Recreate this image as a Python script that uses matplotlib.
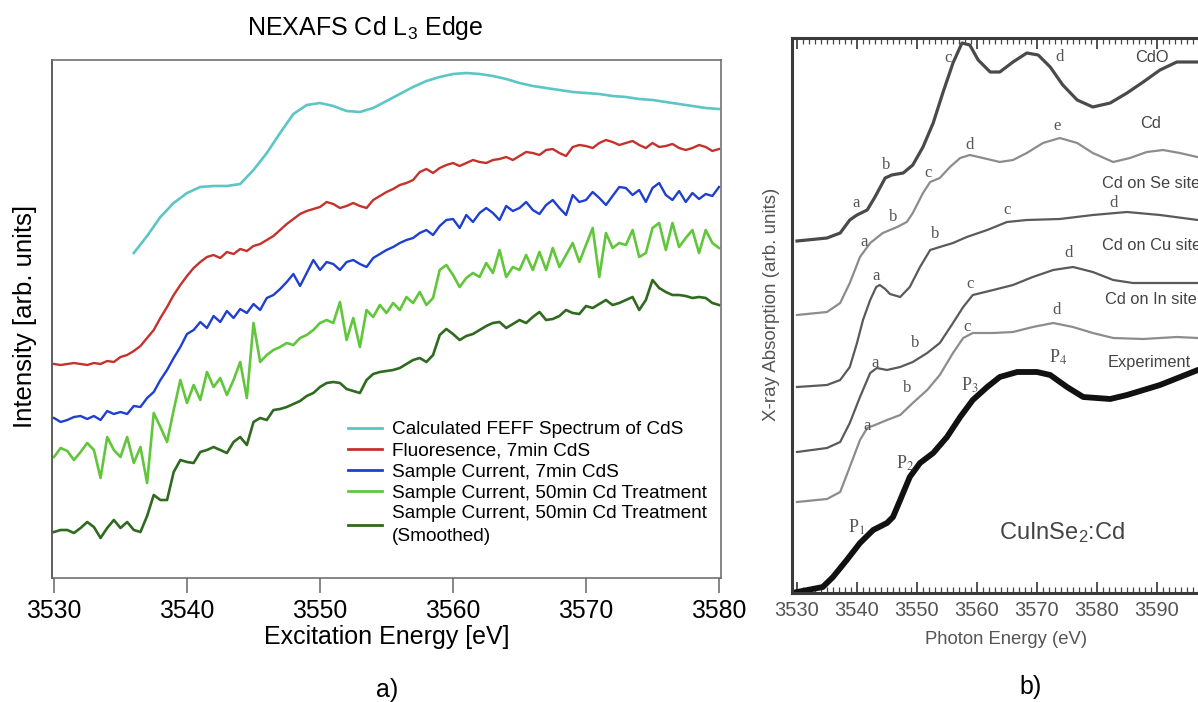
import numpy as np
import matplotlib
matplotlib.use("Agg")
import matplotlib.pyplot as plt
from matplotlib.lines import Line2D
from matplotlib.ticker import MultipleLocator

plt.rcParams['font.family'] = ['Liberation Sans', 'DejaVu Sans']
plt.rcParams['mathtext.fontset'] = 'custom'
plt.rcParams['mathtext.rm'] = 'Liberation Sans'
plt.rcParams['mathtext.it'] = 'Liberation Sans:italic'
plt.rcParams['mathtext.bf'] = 'Liberation Sans:bold'

# ---------------- panel a: NEXAFS Cd L3 edge ----------------
energy = np.arange(3530, 3580.01, 0.5)

feff_energy = np.arange(3536, 3580.01, 1.0)
feff_cds = [347, 364, 383, 397, 407, 413, 414, 414, 416, 430,
            447, 467, 486, 495, 497, 494, 489, 488, 492, 499,
            506, 513, 519, 523, 526, 527, 526, 524, 521, 517,
            514, 512, 510, 508, 507, 506, 504, 503, 501, 500,
            498, 496, 494, 492, 491]

fluor_7min = [236, 235, 236, 237, 236, 235, 237, 236, 239, 238,
              243, 245, 249, 254, 262, 270, 282, 293, 305, 315,
              324, 332, 338, 343, 345, 342, 348, 346, 351, 349,
              354, 356, 360, 364, 370, 376, 381, 386, 389, 391,
              393, 398, 396, 392, 394, 397, 394, 392, 400, 404,
              408, 411, 415, 417, 420, 428, 431, 427, 432, 435,
              437, 434, 437, 440, 438, 437, 440, 441, 443, 440,
              444, 448, 447, 445, 450, 451, 447, 444, 453, 455,
              454, 452, 457, 460, 458, 455, 457, 459, 455, 452,
              457, 453, 454, 456, 452, 450, 452, 455, 453, 449,
              451]

current_7min = [182, 178, 180, 183, 184, 181, 184, 180, 189, 186,
                188, 186, 194, 193, 202, 208, 220, 230, 242, 253,
                266, 270, 278, 272, 284, 278, 289, 282, 291, 287,
                296, 290, 302, 305, 311, 318, 326, 314, 327, 340,
                330, 338, 336, 330, 338, 340, 336, 333, 342, 346,
                350, 353, 357, 360, 362, 367, 370, 365, 374, 380,
                381, 372, 385, 378, 387, 392, 387, 380, 394, 389,
                392, 398, 390, 386, 395, 400, 392, 385, 405, 398,
                400, 408, 402, 395, 404, 413, 412, 405, 410, 398,
                412, 417, 405, 400, 409, 398, 407, 401, 406, 404,
                413]

current_50min = [143, 152, 149, 140, 148, 157, 150, 122, 163, 150,
                 143, 163, 137, 153, 117, 187, 173, 158, 190, 220,
                 197, 215, 200, 228, 213, 222, 205, 220, 238, 202,
                 277, 238, 245, 250, 253, 257, 255, 262, 265, 270,
                 277, 280, 277, 298, 260, 282, 253, 290, 283, 295,
                 287, 297, 290, 303, 297, 308, 295, 302, 330, 335,
                 325, 313, 322, 327, 323, 337, 327, 350, 323, 333,
                 330, 345, 330, 348, 330, 352, 333, 345, 357, 338,
                 355, 372, 323, 367, 352, 357, 355, 370, 343, 347,
                 372, 377, 350, 377, 353, 362, 370, 347, 370, 357,
                 352]

current_50min_smooth = [68, 70, 70, 67, 72, 78, 73, 62, 72, 80,
                        72, 78, 70, 68, 84, 105, 100, 100, 128, 140,
                        138, 137, 148, 150, 153, 150, 147, 158, 163, 155,
                        178, 182, 180, 190, 191, 193, 196, 199, 204, 207,
                        213, 217, 218, 217, 211, 209, 207, 220, 226, 228,
                        229, 230, 232, 236, 240, 242, 238, 245, 265, 271,
                        266, 260, 264, 266, 270, 274, 277, 278, 272, 276,
                        280, 277, 283, 288, 280, 281, 284, 290, 287, 286,
                        294, 292, 296, 300, 295, 297, 300, 303, 290, 300,
                        320, 312, 308, 305, 305, 304, 302, 303, 302, 297,
                        295]

labels_a = ["Calculated FEFF Spectrum of CdS",
            "Fluoresence, 7min CdS",
            "Sample Current, 7min CdS",
            "Sample Current, 50min Cd Treatment",
            "Sample Current, 50min Cd Treatment\n(Smoothed)"]
colors_a = ["#5cc5c5", "#c5322b", "#1e3fcf", "#62c63c", "#2f6a1f"]
x_ticks_a = [3530, 3540, 3550, 3560, 3570, 3580]

# ---------------- panel b: CuInSe2:Cd reference spectra ----------------
cdo_e = [3530, 3535, 3537.2, 3538.8, 3540, 3541.7, 3543, 3544.7, 3545.8, 3547.7,
         3549.3, 3551, 3552.7, 3554.3, 3556, 3557.5, 3558.8, 3560.2, 3562.2, 3563.8,
         3566, 3568.3, 3570.2, 3572.2, 3574.3, 3576.7, 3579.3, 3582.2, 3585, 3587.7,
         3590.5, 3593.3, 3596, 3600]
cdo_i = [359, 362, 367, 380, 385, 390, 403, 422, 425, 427,
         435, 453, 477, 507, 537, 557, 555, 540, 528, 528,
         538, 547, 545, 533, 515, 500, 493, 497, 507, 518,
         530, 538, 538, 538]

cd_e = [3530, 3535, 3537.2, 3538.8, 3540.5, 3542.2, 3544.3, 3546.7, 3548.3, 3549.3,
        3551, 3552.2, 3553.8, 3555.5, 3557.2, 3558.8, 3561, 3563.8, 3566, 3568.3,
        3571, 3573.8, 3576.7, 3579.3, 3582.7, 3585.5, 3588.3, 3591, 3593.8, 3596.7,
        3600]
cd_i = [285, 288, 297, 317, 343, 357, 367, 373, 378, 387,
        407, 418, 422, 433, 442, 445, 442, 438, 440, 447,
        457, 462, 457, 447, 438, 442, 448, 450, 447, 443,
        440]

se_e = [3530, 3535, 3537.2, 3538.8, 3540, 3541, 3542.2, 3543.2, 3543.8, 3544.7,
        3545.5, 3547.2, 3548.8, 3550.5, 3552.2, 3553.8, 3556, 3558.3, 3561.7, 3565,
        3568.3, 3573.8, 3579.3, 3585, 3590.5, 3596.8, 3600]
se_i = [213, 215, 220, 233, 257, 280, 300, 313, 315, 311,
        306, 303, 313, 333, 350, 353, 357, 363, 370, 378,
        380, 381, 385, 388, 385, 380, 378]

cu_e = [3530, 3535, 3537.2, 3538.8, 3540.5, 3542.2, 3543.3, 3545, 3547.2, 3549.3,
        3551.7, 3553.8, 3556, 3557.7, 3559.3, 3562.7, 3566, 3569.3, 3572.7, 3576,
        3579.3, 3582.7, 3586, 3590.5, 3596.8, 3600]
cu_i = [148, 152, 158, 177, 203, 227, 232, 230, 233, 238,
        247, 257, 277, 293, 305, 310, 315, 323, 330, 333,
        328, 320, 317, 317, 317, 317]

in_e = [3530, 3535, 3537.2, 3538.8, 3540.5, 3541.7, 3543, 3545, 3547.2, 3549.3,
        3551.7, 3553.8, 3556, 3557.7, 3559.3, 3562.7, 3566, 3569.3, 3572.7, 3576,
        3579.3, 3582.7, 3587.7, 3593.3, 3596.8, 3600]
in_i = [98, 101, 108, 133, 160, 172, 175, 180, 185, 197,
        210, 225, 247, 262, 267, 267, 268, 273, 277, 273,
        267, 262, 261, 263, 262, 262]

exp_e = [3529.2, 3534.3, 3536, 3538.3, 3540.5, 3542.7, 3545, 3546, 3547.2, 3548.8,
         3550.5, 3552.7, 3555, 3557.2, 3559.3, 3561.7, 3563.8, 3566.7, 3570, 3572.2,
         3575, 3577.7, 3582.2, 3585, 3590.5, 3596.8, 3600]
exp_i = [7, 13, 23, 40, 57, 70, 77, 83, 100, 123,
         137, 147, 163, 183, 200, 213, 223, 228, 228, 225,
         213, 203, 201, 205, 215, 230, 235]

curve_names_b = ["CdO", "Cd", "Cd on Se site", "Cd on Cu site", "Cd on In site", "Experiment"]
x_ticks_b = [3530, 3540, 3550, 3560, 3570, 3580, 3590]

# ---------------- figure ----------------
W, H = 1198, 702
fig = plt.figure(figsize=(W / 100, H / 100), dpi=100)


def fx(px):
    return px / W


def fy(py):
    return 1 - py / H


# ---- panel a ----
ax = fig.add_axes([fx(52), fy(578), (721 - 52) / W, (578 - 60) / H])
ax.plot(feff_energy, feff_cds, color=colors_a[0], lw=1.9)
ax.plot(energy, fluor_7min, color=colors_a[1], lw=1.7)
ax.plot(energy, current_7min, color=colors_a[2], lw=1.7)
ax.plot(energy, current_50min, color=colors_a[3], lw=1.9)
ax.plot(energy, current_50min_smooth, color=colors_a[4], lw=1.9)
ax.set_xlim(3529.85, 3580.15)
ax.set_ylim(22, 540)
ax.set_yticks([])
ax.set_xticks(x_ticks_a)
ax.tick_params(axis='x', direction='out', length=10.5, width=1.1, color='#666666',
               labelsize=17.8, pad=4.3)
for s in ax.spines.values():
    s.set_color('#666666')
    s.set_linewidth(1.1)
ax.spines['left'].set_color('#333333')

handles = [Line2D([], [], color=c, lw=2.0) for c in colors_a]
leg = ax.legend(handles, labels_a, loc='upper left', bbox_to_anchor=(fx(348), fy(421)),
                bbox_transform=fig.transFigure, frameon=False, fontsize=13.7,
                borderpad=0, borderaxespad=0, handlelength=1.8, handletextpad=0.53,
                labelspacing=0.2)
leg.get_texts()[-1].set_linespacing(1.45)

fig.text(fx(365), fy(28), "NEXAFS Cd L$_3$ Edge", ha='center', va='center', fontsize=18)
fig.text(fx(387), fy(637), "Excitation Energy [eV]", ha='center', va='center', fontsize=18)
fig.text(fx(25), fy(316), "Intensity [arb. units]", ha='center', va='center',
         rotation=90, fontsize=18.5)
fig.text(fx(387), fy(690), "a)", ha='center', va='center', fontsize=18)

# ---- panel b ----
bx = fig.add_axes([fx(792), fy(593), (1217 - 792) / W, (593 - 38) / H])
bx.plot(cdo_e, cdo_i, color='#4a4a4a', lw=2.3)
bx.plot(cd_e, cd_i, color='#8c8c8c', lw=1.6)
bx.plot(se_e, se_i, color='#5a5a5a', lw=1.6)
bx.plot(cu_e, cu_i, color='#5a5a5a', lw=1.6)
bx.plot(in_e, in_i, color='#8c8c8c', lw=1.6)
bx.plot(exp_e, exp_i, color='#111111', lw=4.2, solid_capstyle='butt')
bx.set_xlim(3529.17, 3600)
bx.set_ylim(7, 562)
bx.set_yticks([])
bx.set_xticks(x_ticks_b)
bx.xaxis.set_minor_locator(MultipleLocator(1))
bx.tick_params(axis='x', which='both', direction='in', top=True, bottom=True,
               color='#444444', labelcolor='#555555')
bx.tick_params(axis='x', which='major', length=8, width=1.3, labelsize=14.5, pad=5.5)
bx.tick_params(axis='x', which='minor', length=4, width=0.9)
for s in bx.spines.values():
    s.set_color('#3a3a3a')
    s.set_linewidth(2.2)

serif = dict(family='Liberation Serif', fontsize=12, color='#555555',
             ha='center', va='center')
peak_letters = [
    ("a", 3539.8, 397), ("b", 3544.8, 435), ("c", 3555.2, 542), ("d", 3573.7, 543),
    ("a", 3541.2, 358), ("b", 3546.0, 383), ("c", 3551.8, 427), ("d", 3558.8, 455),
    ("e", 3573.3, 474),
    ("a", 3543.2, 324), ("b", 3553.0, 366), ("c", 3565.0, 390), ("d", 3582.8, 397),
    ("a", 3543.0, 237), ("b", 3549.7, 257), ("c", 3558.8, 316), ("d", 3575.3, 347),
    ("a", 3541.7, 174), ("b", 3548.3, 212), ("c", 3558.3, 273), ("d", 3573.3, 290),
]
for t, xe, yv in peak_letters:
    bx.text(xe, yv, t, **serif)

for t, xe, yv in [("P$_1$", 3540.0, 73), ("P$_2$", 3548.0, 137),
                  ("P$_3$", 3558.8, 215), ("P$_4$", 3573.5, 243)]:
    bx.text(xe, yv, t, family='Liberation Serif', math_fontfamily='stix',
            fontsize=13, color='#555555', ha='center', va='center')

name_pos = [(3586.3, 543), (3587.2, 476), (3580.8, 417), (3580.8, 355),
            (3581.3, 300), (3581.8, 238)]
for name, (xe, yv) in zip(curve_names_b, name_pos):
    bx.text(xe, yv, name, fontsize=11.8, color='#444444', ha='left', va='center',
            clip_on=False)

bx.text(3574.2, 67, "CuInSe$_2$:Cd", fontsize=17, color='#444444',
        ha='center', va='center')

fig.text(fx(1006), fy(640), "Photon Energy (eV)", ha='center', va='center',
         fontsize=13.3, color='#555555')
fig.text(fx(772), fy(304), "X-ray Absorption (arb. units)", ha='center', va='center',
         rotation=90, fontsize=13.5, color='#555555')
fig.text(fx(1031), fy(687), "b)", ha='center', va='center', fontsize=18)

fig.savefig("out.png", dpi=100)
